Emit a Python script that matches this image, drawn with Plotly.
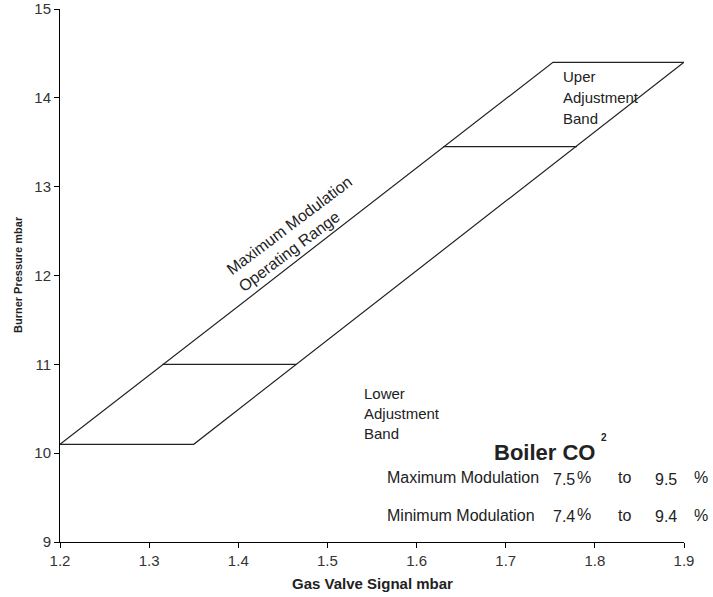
import plotly.graph_objects as go

# outline of the operating range (parallelogram)
range_x = [1.2, 1.35, 1.9, 1.753, 1.2]
range_y = [10.1, 10.1, 14.4, 14.4, 10.1]

# adjustment band limits
lower_band_x = [1.315, 1.465]
lower_band_y = [11.0, 11.0]
upper_band_x = [1.63, 1.78]
upper_band_y = [13.45, 13.45]

x_ticks = [1.2, 1.3, 1.4, 1.5, 1.6, 1.7, 1.8, 1.9]
y_ticks = [9, 10, 11, 12, 13, 14, 15]

co2_rows = ["Maximum Modulation", "Minimum Modulation"]
co2_low = ["7.5", "7.4"]
co2_high = ["9.5", "9.4"]

FONT = "Liberation Sans, Arial, sans-serif"
INK = "#222222"

fig = go.Figure()
for xs, ys in [(range_x, range_y), (lower_band_x, lower_band_y), (upper_band_x, upper_band_y)]:
    fig.add_trace(go.Scatter(x=xs, y=ys, mode="lines", line=dict(color=INK, width=1.2),
                             hoverinfo="skip", showlegend=False))

# plot area in pixels: x 60..684, y 9..542
L, R, T, B = 60, 684, 9, 542


def label(px, py, text, size=16, bold=False, anchor="left", angle=0):
    fig.add_annotation(x=(px - L) / (R - L), y=(B - py) / (B - T), xref="paper", yref="paper",
                       text=f"<b>{text}</b>" if bold else text,
                       showarrow=False, xanchor=anchor, yanchor="middle", textangle=angle,
                       font=dict(family=FONT, size=size, color=INK))


for i, t in enumerate(["Uper", "Adjustment", "Band"]):
    label(561, 76 + i * 21, t, size=15)
for i, t in enumerate(["Lower", "Adjustment", "Band"]):
    label(362, 393 + i * 20, t, size=15)

label(289, 225, "Maximum Modulation", size=16, anchor="center", angle=-37)
label(289, 251, "Operating Range", size=16, anchor="center", angle=-37)

label(492, 452, "Boiler CO", size=22, bold=True)
label(604, 437, "2", size=10, bold=True, anchor="center")
for i, row in enumerate(co2_rows):
    py = 478 + i * 37
    label(385, py, row, size=16)
    label(551, py + 1, co2_low[i], size=16)
    label(575, py - 1, "%", size=16)
    label(616, py, "to", size=16)
    label(653, py + 1, co2_high[i], size=16)
    label(692, py, "%", size=16)

# axis titles
label(372, 583, "Gas Valve Signal mbar", size=15, bold=True, anchor="center")
label(18, 275, "Burner Pressure mbar", size=11, bold=True, anchor="center", angle=-90)

fig.update_layout(
    width=713, height=597,
    margin=dict(l=L, r=713 - R, t=T, b=597 - B),
    paper_bgcolor="white", plot_bgcolor="white",
    font=dict(family=FONT, size=15, color="#333333"),
    xaxis=dict(range=[1.2, 1.9], tickvals=x_ticks, tickformat=".1f", showgrid=False, zeroline=False,
               showline=True, linecolor="black", linewidth=1, ticks="outside", ticklen=5,
               tickcolor="black", automargin=False),
    yaxis=dict(range=[9, 15], tickvals=y_ticks, showgrid=False, zeroline=False,
               showline=True, linecolor="black", linewidth=1, ticks="outside", ticklen=5,
               tickcolor="black", automargin=False),
)

# drop the page's default body margin so the figure sits at the window corner
fig.write_html("out.html", config={"displayModeBar": False},
               post_script="document.body.style.margin='0';")
